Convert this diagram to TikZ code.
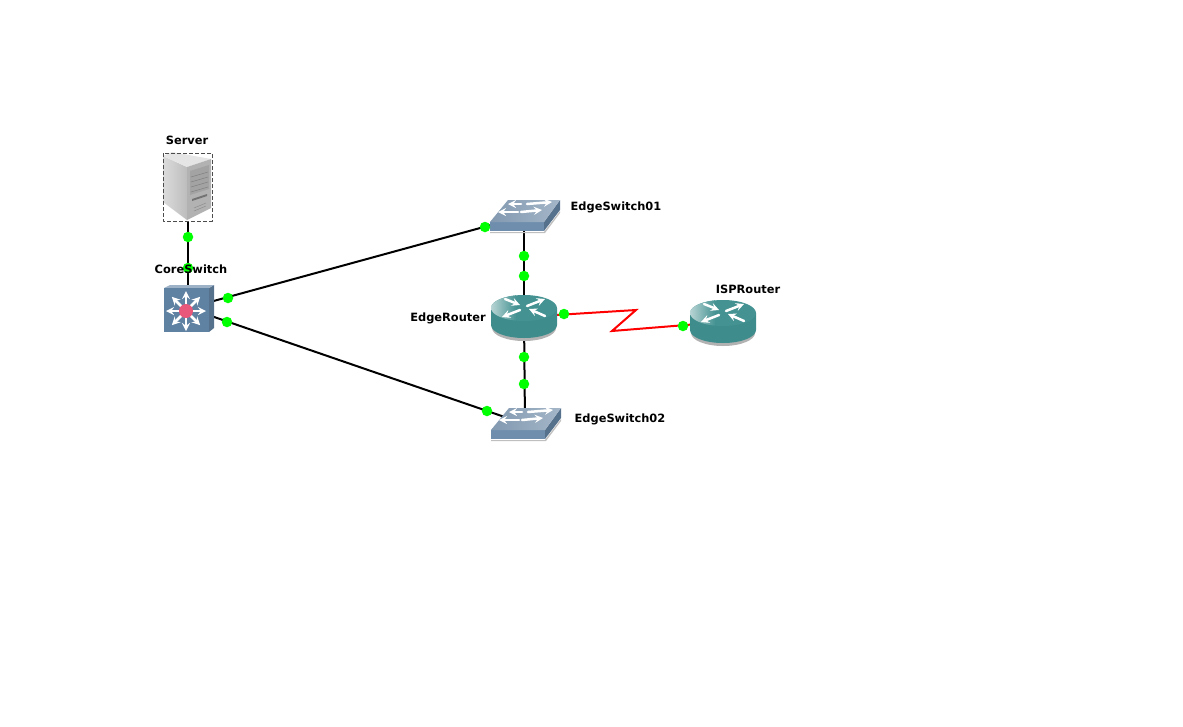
\documentclass[tikz,border=0pt]{standalone}
\usepackage{fontspec}
\setmainfont{DejaVu Sans}
\usetikzlibrary{positioning}
\definecolor{rtteal}{HTML}{3E8C8C}
\definecolor{rttop}{HTML}{459292}
\definecolor{rtlight}{HTML}{B8D4D4}
\definecolor{swfront}{HTML}{6F8EAE}
\definecolor{swside}{HTML}{56718C}
\definecolor{swtop}{HTML}{A4B6C8}
\definecolor{swtopdk}{HTML}{8299B0}
\definecolor{corefront}{HTML}{5F82A3}
\definecolor{coretop}{HTML}{9DB2C6}
\definecolor{coreball}{HTML}{E8587A}
\tikzset{
  devnode/.style={inner sep=0pt, outer sep=0pt, minimum width=50pt, minimum height=40pt},
  wire/.style={line width=2pt, black},
  serial/.style={line width=2pt, red, line join=miter},
  portdot/.style={circle, fill=green, inner sep=0pt, minimum size=10.5pt},
  devlabel/.style={font=\bfseries\fontsize{11.4}{14}\selectfont, inner sep=0pt, text=black},
  icon/.style={white, line width=2.5pt, ->},
}
% router icon, centred on a node
\newcommand{\RouterIcon}[1]{
  \begin{scope}[shift={(#1)}]
    \fill[black!30] (-32,-7) -- (-32,11) arc[start angle=180, end angle=360, x radius=32pt, y radius=13pt] -- (32,-7) -- cycle;
    \fill[rtteal] (-33,-9) -- (-33,8) arc[start angle=180, end angle=360, x radius=33pt, y radius=13pt] -- (33,-9) -- cycle;
    \fill[rttop] (0,-9) ellipse[x radius=33pt, y radius=13pt];
    \begin{scope}
      \clip (0,-9) ellipse[x radius=33pt, y radius=13pt];
      \shade[left color=rtlight, right color=rttop] (-33,-22) rectangle (-8,4);
    \end{scope}
    \draw[icon] (-19,-18) -- (-4,-12);
    \draw[icon] (3,-11) -- (21,-18);
    \draw[icon] (-4,-7) -- (-22,0);
    \draw[icon] (21,-1) -- (5,-8);
  \end{scope}
}
% flat switch icon
\newcommand{\SwitchIcon}[1]{
  \begin{scope}[shift={(#1)}]
    \fill[black!25] (-34,16) -- (20,16) -- (36,-5) -- (36,-3) -- (21,17) -- (-34,17) -- cycle;
    \fill[swfront] (-34,6) -- (20,6) -- (20,15) -- (-34,15) -- cycle;
    \fill[swside] (20,6) -- (36,-16) -- (36,-6) -- (20,15) -- cycle;
    \shade[left color=swtopdk, right color=swtop] (-34,6) -- (-16,-16) -- (36,-16) -- (20,6) -- cycle;
    \draw[icon] (-3,-12) -- (-16,-12);
    \draw[icon] (3,-12) -- (28,-14);
    \draw[icon] (-6,-4) -- (-26,-4);
    \draw[icon] (-3,-4) -- (18,-6);
  \end{scope}
}
\begin{document}
\begin{tikzpicture}[x=1pt, y=-1pt, line cap=round, line join=round, >=stealth]
  \useasboundingbox (0,0) rectangle (1183,726);
  %--- Devices
    \node[devnode] (server) at (188,187) {};
    \node[devnode] (core) at (188,308) {};
    \node[devnode] (edgesw1) at (524,216) {};
    \node[devnode] (edgert) at (524,317) {};
    \node[devnode] (edgesw2) at (525,424) {};
    \node[devnode] (isprt) at (723,322) {};
    \coordinate (bend1) at (636,310);
    \coordinate (bend2) at (612,331);
  %--- Links
    \draw[wire] (server.center) -- (core.center);
    \draw[wire] (core.center) -- (edgesw1.center);
    \draw[wire] (core.center) -- (edgesw2.center);
    \draw[wire] (edgesw1.center) -- (edgert.center);
    \draw[wire] (edgert.center) -- (edgesw2.center);
    \draw[serial] (edgert.center) -- (bend1) -- (bend2) -- (isprt.center);
  %--- Server
    \begin{scope}[shift={(server)}]
      \fill[white] (-25,-34) rectangle (24,34);
      \shade[left color=black!14, right color=black!26] (-25,-31) -- (-1,-20) -- (-1,33) -- (-25,15) -- cycle;
      \fill[black!10] (-25,-31) -- (-16,-35) -- (23,-28) -- (-1,-20) -- cycle;
      \fill[black!30] (-1,-20) -- (23,-28) -- (23,21) -- (-1,33) -- cycle;
      \fill[black!36] (2,-16) -- (21,-22) -- (21,2) -- (2,8) -- cycle;
      \foreach \ya in {-10,-5,0,5} \draw[black!50, line width=.5pt] (3,\ya) -- (20,\ya-5);
      \fill[black!55] (4,12) -- (19,7) -- (19,9) -- (4,14) -- cycle;
      \draw[black!45, line width=.5pt] (6,21) -- (18,16) (6,24) -- (18,19);
      \draw[line cap=butt, dash pattern=on 4pt off 2pt, line width=.9pt, black!70] (-25,-34) rectangle (24,34);
    \end{scope}
  %--- CoreSwitch
    \begin{scope}[shift={(core)}]
      \fill[swside] (21,-20) -- (26,-23) -- (26,20) -- (21,24) -- cycle;
      \fill[coretop] (-24,-20) -- (-18,-23) -- (26,-23) -- (21,-20) -- cycle;
      \fill[corefront] (-24,-20) rectangle (21,24);
      \foreach \ang in {0,45,...,315}
        \draw[icon] (-2,3) -- ++(\ang:20);
      \fill[coreball] (-2,3) circle[radius=7pt];
    \end{scope}
  %--- Routers and switches
    \SwitchIcon{edgesw1}
    \SwitchIcon{edgesw2}
    \RouterIcon{edgert}
    \RouterIcon{isprt}
  %--- Ports
    \node[portdot] (p1) at (188,237) {};
    \node[portdot] (p2) at (188,268) {};
    \node[portdot] (p3) at (228,298) {};
    \node[portdot] (p4) at (485,227) {};
    \node[portdot] (p5) at (227,322) {};
    \node[portdot] (p6) at (487,411) {};
    \node[portdot] (p7) at (524,256) {};
    \node[portdot] (p8) at (524,276) {};
    \node[portdot] (p9) at (524,357) {};
    \node[portdot] (p10) at (524,384) {};
    \node[portdot] (p11) at (564,314) {};
    \node[portdot] (p12) at (683,326) {};
  %--- Labels
    \node[devlabel] (lbserver) at (187,140) {Server};
    \node[devlabel] (lbcore) at (191,269) {CoreSwitch};
    \node[devlabel] (lbsw1) at (616,207) {EdgeSwitch01};
    \node[devlabel] (lbrt) at (448,318) {EdgeRouter};
    \node[devlabel] (lbsw2) at (620,419) {EdgeSwitch02};
    \node[devlabel] (lbisp) at (748,289) {ISPRouter};
\end{tikzpicture}
\end{document}
